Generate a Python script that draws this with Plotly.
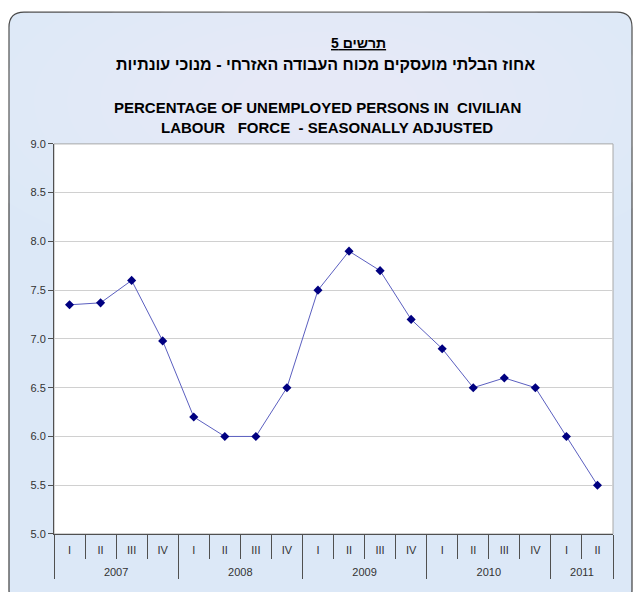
import plotly.graph_objects as go

# ---- data ----
period_year = ["2007"] * 4 + ["2008"] * 4 + ["2009"] * 4 + ["2010"] * 4 + ["2011"] * 2
period_quarter = ["I", "II", "III", "IV"] * 4 + ["I", "II"]
rate = [7.35, 7.37, 7.6, 6.98, 6.2, 6.0, 6.0, 6.5, 7.5, 7.9, 7.7, 7.2,
        6.9, 6.5, 6.6, 6.5, 6.0, 5.5]
y_ticks = [5.0, 5.5, 6.0, 6.5, 7.0, 7.5, 8.0, 8.5, 9.0]

title_he_1 = "תרשים 5"
title_he_2 = "אחוז הבלתי מועסקים מכוח העבודה האזרחי - מנוכי עונתיות"
title_en_1 = "PERCENTAGE OF UNEMPLOYED PERSONS IN\u00a0 CIVILIAN"
title_en_2 = "LABOUR\u00a0\u00a0 FORCE\u00a0 - SEASONALLY ADJUSTED"

W, H = 633, 592
FONT = "Liberation Sans, Arial, sans-serif"

fig = go.Figure()
fig.add_trace(go.Scatter(
    x=[["<br>" + y for y in period_year], period_quarter], y=rate,
    mode="lines+markers",
    line=dict(color="#5b5fc0", width=1),
    marker=dict(symbol="diamond", size=7, color="#000080"),
    showlegend=False, hoverinfo="skip",
))

# vertical compensation for how the page is captured
OFF, SC = 4.8, 0.982


def px(x):
    return x / W


def py(y):
    return 1 - ((y - OFF) / SC) / H


x0, x1, y0, y1, r = 9, 632, 11, 605, 15
path = (f"M {px(x0+r)} {py(y0)} L {px(x1-r)} {py(y0)} Q {px(x1)} {py(y0)} {px(x1)} {py(y0+r)} "
        f"L {px(x1)} {py(y1-r)} Q {px(x1)} {py(y1)} {px(x1-r)} {py(y1)} "
        f"L {px(x0+r)} {py(y1)} Q {px(x0)} {py(y1)} {px(x0)} {py(y1-r)} "
        f"L {px(x0)} {py(y0+r)} Q {px(x0)} {py(y0)} {px(x0+r)} {py(y0)} Z")

shapes = [dict(type="path", path=path, xref="paper", yref="paper",
               fillcolor="#dce8f7", line=dict(color="#404040", width=1.2), layer="below")]
# soft lighter glow behind titles (approximate radial gradient)
cx, cy = 325, 100
n = 10
for i in range(n):
    f = 1 - i / n
    rx, ry = 330 * f + 60, 150 * f + 25
    shapes.append(dict(type="circle", xref="paper", yref="paper",
                       x0=px(cx - rx), x1=px(cx + rx), y0=py(cy + ry), y1=py(cy - ry),
                       fillcolor="rgba(255,255,255,0.045)", line=dict(width=0), layer="below"))
# white plot area with light border
shapes.append(dict(type="rect", xref="paper", yref="paper", x0=px(54), x1=px(613), y0=py(534), y1=py(143),
                   fillcolor="white", line=dict(color="#a8a8a8", width=1), layer="below"))

annotations = [
    dict(text=f"<b><u>{title_he_1}</u></b>", x=px(358), y=py(42), xref="paper", yref="paper",
         showarrow=False, font=dict(size=14, color="black", family=FONT), xanchor="center", yanchor="middle"),
    dict(text=f"<b>{title_he_2}</b>", x=px(326), y=py(63), xref="paper", yref="paper",
         showarrow=False, font=dict(size=16, color="black", family=FONT), xanchor="center", yanchor="middle"),
    dict(text=f"<b>{title_en_1}</b>", x=px(317), y=py(107), xref="paper", yref="paper",
         showarrow=False, font=dict(size=15, color="black", family=FONT), xanchor="center", yanchor="middle"),
    dict(text=f"<b>{title_en_2}</b>", x=px(327), y=py(127), xref="paper", yref="paper",
         showarrow=False, font=dict(size=15, color="black", family=FONT), xanchor="center", yanchor="middle"),
]

fig.update_layout(
    width=W, height=H,
    margin=dict(l=0, r=0, t=0, b=0),
    paper_bgcolor="white", plot_bgcolor="white",
    font=dict(family=FONT, size=11, color="#333333"),
    shapes=shapes, annotations=annotations,
    xaxis=dict(domain=[px(54), px(613)], type="multicategory",
               range=[-0.5, len(rate) - 0.5], autorange=False,
               showline=True, linecolor="#505050", linewidth=1, mirror=False,
               ticks="outside", tickson="boundaries", ticklen=24, tickcolor="#505050",
               ticklabelstandoff=6,
               showgrid=False, dividercolor="#505050", dividerwidth=1,
               tickfont=dict(size=11, color="#333333")),
    yaxis=dict(domain=[py(534), py(143)], range=[5, 9], tickvals=y_ticks, tickformat=".1f",
               showline=True, linecolor="#505050", linewidth=1,
               ticks="outside", ticklen=5, tickcolor="#505050",
               showgrid=True, gridcolor="#d0d0d0", gridwidth=1, zeroline=False,
               tickfont=dict(size=11, color="#333333")),
)

post = ("document.documentElement.style.margin='0px';"
        "document.body.style.margin='0px'; document.body.style.overflow='hidden';"
        "var d=document.getElementById('{plot_id}');"
        "d.style.position='fixed'; d.style.top='0px'; d.style.left='0px';")
fig.write_html("out.html", post_script=post, config={"displayModeBar": False})
